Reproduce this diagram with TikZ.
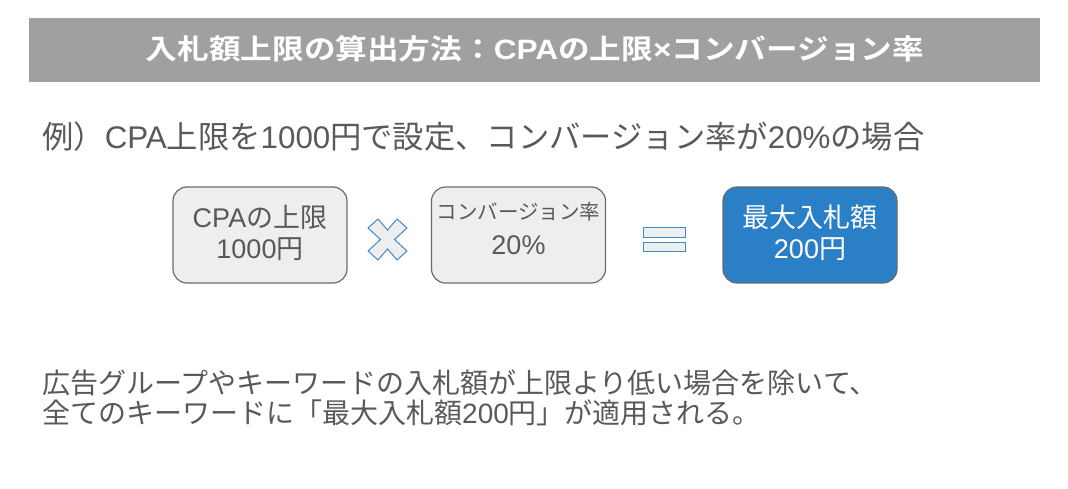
\documentclass[tikz,border=0pt]{standalone}
\usepackage{fontspec}
\usetikzlibrary{calc}
\setmainfont{Noto Sans CJK JP}
\newfontfamily\cjkbold{Noto Sans CJK JP Bold}
\newfontfamily\lat{Liberation Sans}
\newfontfamily\latb{Liberation Sans Bold}
\definecolor{titlegray}{HTML}{A0A0A0}
\definecolor{txtgray}{HTML}{595959}
\definecolor{boxfill}{HTML}{EEEEEE}
\definecolor{boxline}{HTML}{6A6A6A}
\definecolor{bluefill}{HTML}{2A7FC6}
\definecolor{blueline}{HTML}{3C8BD0}
\begin{document}
\begin{tikzpicture}[x=1pt,y=-1pt,
  card/.style={draw=boxline, line width=1.2pt, rounded corners=14pt, minimum width=174pt, minimum height=96pt, inner sep=0pt},
  bigtxt/.style={font=\fontsize{27}{30}\selectfont, text=txtgray, inner sep=0pt},
  bodytxt/.style={font=\fontsize{28}{32}\selectfont, text=txtgray, inner sep=0pt, anchor=west}]
\useasboundingbox (0,0) rectangle (1068,489);
% title bar
\node[fill=titlegray, minimum width=1011pt, minimum height=64pt, inner sep=0pt] (title) at (534.5,50) {};
\node[text=white, inner sep=0pt, font=\cjkbold\fontsize{28}{30}\selectfont] (titletxt) at (535,49) {\scalebox{1.13}[1]{入札額上限の算出方法：{\latb CPA}の上限{\latb ×}コンバージョン率}};
% subtitle
\node[bodytxt, font=\fontsize{31.3}{34}\selectfont] (sub) at (42,137) {例）{\lat CPA}上限を{\lat 1000}円で設定、コンバージョン率が{\lat 20\%}の場合};
% boxes
\node[card, fill=boxfill] (b1) at (260,235) {};
\node[bigtxt] (b1a) at (260,217) {{\lat CPA}の上限};
\node[bigtxt] (b1b) at (260,249) {{\lat 1000}円};
\node[card, fill=boxfill] (b2) at (518.5,235) {};
\node[bigtxt, font=\fontsize{20.5}{22}\selectfont] (b2a) at (518.5,212) {コンバージョン率};
\node[bigtxt] (b2b) at (518.5,245) {\lat 20\%};
\node[card, fill=bluefill] (b3) at (810,235) {};
\node[bigtxt, text=white] (b3a) at (810,217) {最大入札額};
\node[bigtxt, text=white] (b3b) at (810,249) {{\lat 200}円};
% multiply sign
\coordinate (xc) at (387.5,239.5);
\draw[blueline, fill=boxfill, line width=1pt, line join=miter]
  ($(xc)+(-19.5,-11.5)$) -- ($(xc)+(-9.5,-20.5)$) -- ($(xc)+(0,-9.5)$) -- ($(xc)+(9.5,-20.5)$) -- ($(xc)+(19.5,-11.5)$) -- ($(xc)+(7,0)$) -- ($(xc)+(19.5,11.5)$) -- ($(xc)+(9.5,20.5)$) -- ($(xc)+(0,9.5)$) -- ($(xc)+(-9.5,20.5)$) -- ($(xc)+(-19.5,11.5)$) -- ($(xc)+(-7,0)$) -- cycle;
% equals sign
\draw[blueline, fill=boxfill, line width=1pt] (643,228) rectangle (685,237);
\draw[blueline, fill=boxfill, line width=1pt] (643,242) rectangle (685,251);
% bottom text
\node[bodytxt] (l1) at (42,383) {広告グループやキーワードの入札額が上限より低い場合を除いて、};
\node[bodytxt] (l2) at (42,413) {全てのキーワードに「最大入札額{\lat 200}円」が適用される。};
\end{tikzpicture}
\end{document}
